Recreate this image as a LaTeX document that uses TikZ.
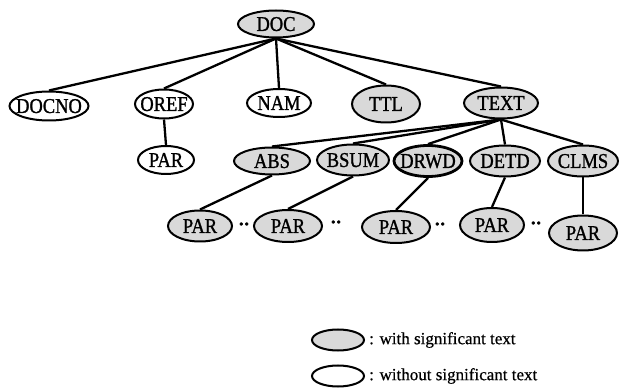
\documentclass[tikz,border=0pt]{standalone}
\usepackage{fontspec}
\setmainfont{Liberation Serif}
\newfontfamily\nodefont[FakeStretch=0.88, FakeBold=1.2]{Liberation Serif}
\newfontfamily\dotfont[FakeBold=3]{Liberation Serif}
\newfontfamily\legfont[FakeBold=0.6]{Liberation Serif}
\usetikzlibrary{shapes.geometric}
\newcommand\nt[1]{\makebox[0pt]{\smash{\raisebox{-.5\height}{#1}}}}
\tikzset{
  el/.style={ellipse, draw, line width=2pt, inner sep=0pt, font=\nodefont\fontsize{21}{21}\selectfont},
  sig/.style={el, fill=gray!30},
  nsig/.style={el, fill=white},
  edge/.style={line width=2.3pt},
  dotsep/.style={font=\dotfont\fontsize{22}{22}\selectfont, inner sep=0pt},
  legtext/.style={anchor=west, inner sep=0pt, font=\legfont\fontsize{17}{17}\selectfont}
}
\begin{document}
\begin{tikzpicture}[x=1pt,y=-1pt]
\useasboundingbox (0,0) rectangle (619,390);
% level 0
\node[sig, minimum width=76pt, minimum height=27pt] (doc) at (276,24) {\nt{DOC}};
% level 1
\node[nsig, minimum width=79pt, minimum height=29pt] (docno) at (49,106) {\nt{DOCNO}};
\node[nsig, minimum width=58pt, minimum height=29pt] (oref) at (164,104) {\nt{OREF}};
\node[nsig, minimum width=64pt, minimum height=28pt] (nam) at (279,103) {\nt{NAM}};
\node[sig, minimum width=68pt, minimum height=37pt] (ttl) at (386,104) {\nt{TTL}};
\node[sig, minimum width=74pt, minimum height=31pt] (text) at (501,103) {\nt{TEXT}};
% level 2
\node[nsig, minimum width=56pt, minimum height=28pt] (par0) at (166,160) {\nt{PAR}};
\node[sig, minimum width=76pt, minimum height=27pt] (abs) at (272,161) {\nt{ABS}};
\node[sig, minimum width=72pt, minimum height=31pt] (bsum) at (353,160) {\nt{BSUM}};
\node[sig, minimum width=68pt, minimum height=31pt, line width=2.8pt] (drwd) at (428,161) {\nt{DRWD}};
\node[sig, minimum width=70pt, minimum height=31pt] (detd) at (505,161) {\nt{DETD}};
\node[sig, minimum width=70pt, minimum height=31pt] (clms) at (583,161) {\nt{CLMS}};
% level 3
\node[sig, minimum width=64pt, minimum height=31pt] (par1) at (200,226) {\nt{PAR}};
\node[sig, minimum width=68pt, minimum height=32pt] (par2) at (288,226) {\nt{PAR}};
\node[sig, minimum width=68pt, minimum height=32pt] (par3) at (396,227) {\nt{PAR}};
\node[sig, minimum width=64pt, minimum height=34pt] (par4) at (492,225) {\nt{PAR}};
\node[sig, minimum width=68pt, minimum height=35pt] (par5) at (583,233) {\nt{PAR}};
\node[dotsep] (d1) at (244,224) {..};
\node[dotsep] (d2) at (336,222) {..};
\node[dotsep] (d3) at (440,224) {..};
\node[dotsep] (d4) at (536,223) {..};
% edges
\foreach \c in {docno,oref,nam,ttl,text} \draw[edge] (doc.south) -- (\c.north);
\foreach \c in {abs,bsum,drwd,detd,clms} \draw[edge] (text.south) -- (\c.north);
\draw[edge] (oref.south) -- (par0.north);
\draw[edge] (abs.south) -- (par1.north);
\draw[edge] (bsum.south) -- (par2.north);
\draw[edge] (drwd.south) -- (par3.north);
\draw[edge] (detd.south) -- (par4.north);
\draw[edge] (clms.south) -- (par5.north);
% legend
\node[ellipse, draw, line width=2pt, fill=gray!30, minimum width=52pt, minimum height=21pt] (lsig) at (338,340) {};
\node[legtext] (lsigt) at (369,340) {: with significant text};
\node[ellipse, draw, line width=2pt, fill=white, minimum width=52pt, minimum height=21pt] (lnsig) at (338,376) {};
\node[legtext] (lnsigt) at (369,376) {: without significant text};
\end{tikzpicture}
\end{document}
